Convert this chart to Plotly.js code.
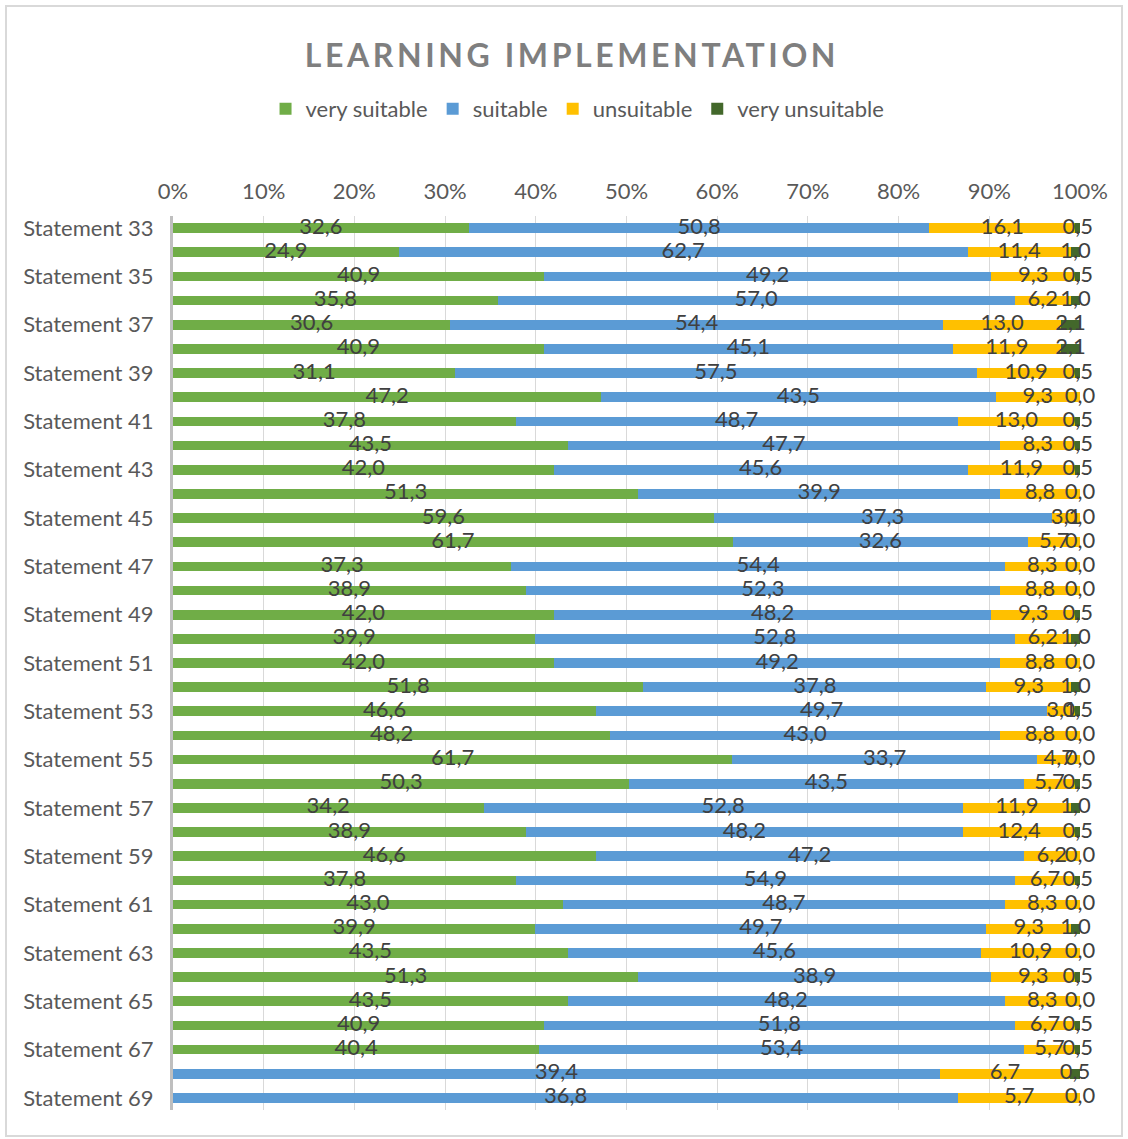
<!DOCTYPE html>
<html>
<head>
<meta charset="utf-8">
<script src="https://cdn.plot.ly/plotly-3.0.1.min.js"></script>
<style>
  html, body { margin: 0; padding: 0; background: #ffffff; }
  #wrap { position: relative; width: 1128px; height: 1139px; }
  #chart { position: absolute; left: 0; top: 0; width: 1128px; height: 1139px; }
  #frame { position: absolute; left: 5px; top: 5px; width: 1114px; height: 1128px;
           border: 2px solid #d9d9d9; pointer-events: none; }
</style>
</head>
<body>
<div id="wrap"><div id="chart"></div><div id="frame"></div></div>
<script>
const categories = ["Statement 33","Statement 34","Statement 35","Statement 36","Statement 37","Statement 38",
  "Statement 39","Statement 40","Statement 41","Statement 42","Statement 43","Statement 44","Statement 45",
  "Statement 46","Statement 47","Statement 48","Statement 49","Statement 50","Statement 51","Statement 52",
  "Statement 53","Statement 54","Statement 55","Statement 56","Statement 57","Statement 58","Statement 59",
  "Statement 60","Statement 61","Statement 62","Statement 63","Statement 64","Statement 65","Statement 66",
  "Statement 67","Statement 68","Statement 69"];
const tickLabels = ["Statement 33","Statement 35","Statement 37","Statement 39","Statement 41","Statement 43",
  "Statement 45","Statement 47","Statement 49","Statement 51","Statement 53","Statement 55","Statement 57",
  "Statement 59","Statement 61","Statement 63","Statement 65","Statement 67","Statement 69"];
const xTickLabels = ["0%","10%","20%","30%","40%","50%","60%","70%","80%","90%","100%"];

const verySuitable = [32.6,24.9,40.9,35.8,30.6,40.9,31.1,47.2,37.8,43.5,42.0,51.3,59.6,61.7,37.3,38.9,42.0,39.9,42.0,51.8,
  46.6,48.2,61.7,50.3,34.2,38.9,46.6,37.8,43.0,39.9,43.5,51.3,43.5,40.9,40.4,null,null];
const suitable = [50.8,62.7,49.2,57.0,54.4,45.1,57.5,43.5,48.7,47.7,45.6,39.9,37.3,32.6,54.4,52.3,48.2,52.8,49.2,37.8,
  49.7,43.0,33.7,43.5,52.8,48.2,47.2,54.9,48.7,49.7,45.6,38.9,48.2,51.8,53.4,39.4,36.8];
const unsuitable = [16.1,11.4,9.3,6.2,13.0,11.9,10.9,9.3,13.0,8.3,11.9,8.8,3.1,5.7,8.3,8.8,9.3,6.2,8.8,9.3,
  3.1,8.8,4.7,5.7,11.9,12.4,6.2,6.7,8.3,9.3,10.9,9.3,8.3,6.7,5.7,6.7,5.7];
const veryUnsuitable = [0.5,1.0,0.5,1.0,2.1,2.1,0.5,0.0,0.5,0.5,0.5,0.0,0.0,0.0,0.0,0.0,0.5,1.0,0.0,1.0,
  0.5,0.0,0.0,0.5,1.0,0.5,0.0,0.5,0.0,1.0,0.0,0.5,0.0,0.5,0.5,0.5,0.0];

const seriesNames = ["very suitable","suitable","unsuitable","very unsuitable"];
const seriesColors = ["#70ad47","#5b9bd5","#ffc000","#43682b"];
const seriesData = [verySuitable, suitable, unsuitable, veryUnsuitable];

const FONT = "Lato, 'Open Sans', sans-serif";
const totals = categories.map((c, i) => seriesData.reduce((s, arr) => s + (arr[i] || 0), 0));
const pct = seriesData.map(arr => arr.map((v, i) => v === null ? null : v / totals[i] * 100));
const fmt = v => v.toFixed(1).replace('.', ',');

const traces = [];
seriesData.forEach((arr, k) => {
  traces.push({
    type: 'bar', orientation: 'h', name: seriesNames[k],
    y: categories, x: pct[k],
    marker: { color: seriesColors[k], line: { width: 0 } },
    hoverinfo: 'skip'
  });
});
// label trace at segment midpoints
const lx = [], ly = [], lt = [];
categories.forEach((c, i) => {
  let cum = 0;
  seriesData.forEach((arr, k) => {
    const p = pct[k][i];
    if (p === null) return;
    lx.push(Math.min(cum + p / 2, 99.999)); ly.push(c); lt.push(fmt(arr[i]));
    cum += p;
  });
});
traces.push({
  type: 'scatter', mode: 'text', x: lx, y: ly, text: lt,
  textposition: 'middle center', cliponaxis: false, showlegend: false, hoverinfo: 'skip',
  textfont: { family: FONT, size: 22, color: '#404040' }
});

const layout = {
  width: 1128, height: 1139,
  margin: { l: 173, r: 48, t: 216, b: 29 },
  paper_bgcolor: '#ffffff', plot_bgcolor: '#ffffff',
  barmode: 'stack', bargap: 0.6,
  font: { family: FONT, color: '#595959' },
  title: {
    text: 'LEARNING IMPLEMENTATION',
    font: { family: FONT, size: 32, color: '#7f7f7f', weight: 'bold' },
    x: 0.507, xref: 'container', xanchor: 'center',
    y: 1 - 56 / 1139, yref: 'container', yanchor: 'middle'
  },
  showlegend: true,
  legend: {
    orientation: 'h', xref: 'container', yref: 'container',
    x: 0.512, xanchor: 'center', y: 1 - 109 / 1139, yanchor: 'middle',
    font: { family: FONT, size: 22, color: '#595959' },
    traceorder: 'normal', itemwidth: 30
  },
  xaxis: {
    side: 'top', range: [0, 100], tickvals: [0,10,20,30,40,50,60,70,80,90,100], ticktext: xTickLabels,
    showgrid: true, gridcolor: '#d9d9d9', gridwidth: 1, zeroline: false, showline: false,
    ticks: '', ticklabelstandoff: 12,
    tickfont: { family: FONT, size: 22, color: '#595959' }, fixedrange: true
  },
  yaxis: {
    type: 'category', categoryorder: 'array', categoryarray: categories,
    range: [categories.length - 0.5, -0.5], autorange: false,
    tickmode: 'array', tickvals: tickLabels, ticktext: tickLabels,
    showline: true, linecolor: '#bfbfbf', linewidth: 3, showgrid: false, zeroline: false,
    ticks: '', ticklabelstandoff: 12,
    tickfont: { family: FONT, size: 22, color: '#595959' }, fixedrange: true
  }
};

Plotly.newPlot('chart', traces, layout, { staticPlot: true, displayModeBar: false }).then(() => {
  const t = document.querySelector('.gtitle');
  if (t) t.style.letterSpacing = '3.6px';
});
</script>
</body>
</html>
